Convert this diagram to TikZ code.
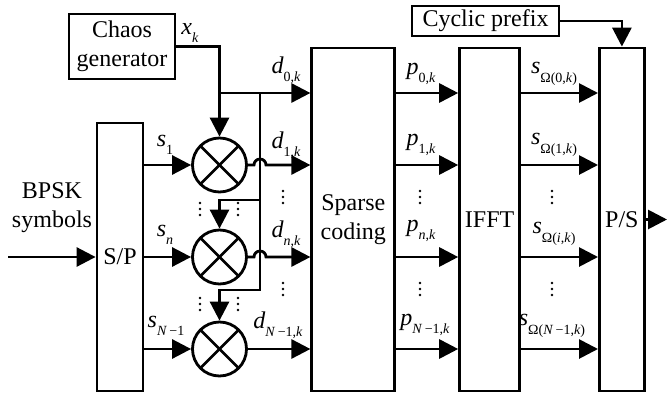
\documentclass[tikz,border=0pt]{standalone}
\usepackage{fontspec}
\setmainfont{Liberation Serif}
\newfontfamily\blockfont{Liberation Serif}
\usetikzlibrary{arrows.meta,positioning,calc}

% italic symbol with a lowered index
\newcommand{\idx}[2]{\textit{#1}\raisebox{-0.35em}{\fontsize{14}{14}\selectfont #2}}

\tikzset{vdot/.pic={\foreach \d in {-6,0,6} \fill (0,\d) circle (1.4pt);}}

\begin{document}
\begin{tikzpicture}[
  x=1pt, y=-1pt,
  line width=2.8pt,
  box/.style={draw, align=center, inner sep=0pt,
              font=\blockfont\fontsize{24}{29}\selectfont},
  txt/.style={align=center, inner sep=0pt,
              font=\blockfont\fontsize{24}{29}\selectfont},
  mult/.style={draw, circle, minimum size=54pt, inner sep=0pt,
    path picture={
      \draw (path picture bounding box.center) +(45:28pt) -- +(225:28pt);
      \draw (path picture bounding box.center) +(135:28pt) -- +(-45:28pt);}},
  lbl/.style={inner sep=0pt, font=\blockfont\fontsize{24}{28}\selectfont},
  arr/.style={-{Triangle[length=19pt, width=19pt]}}
]
\useasboundingbox (0,0) rectangle (668,401);

% blocks
\node[box, minimum width=106pt, minimum height=65pt] (chaos) at (122,46.5) {Chaos\\generator};
\node[box, minimum width=46pt, minimum height=268pt] (sp) at (120,257) {S/P};
\node[box, minimum width=83pt, minimum height=343pt,
      right=166pt of sp.south east, anchor=south west] (sc) {Sparse\\coding};
\node[box, minimum width=60pt, minimum height=343pt, right=62pt of sc] (ifft) {IFFT};
\node[box, minimum width=45pt, minimum height=343pt, right=77pt of ifft] (ps) {P/S};
\node[box, minimum width=147pt, minimum height=30pt] (cp) at (485.5,21) {Cyclic prefix};
\node[txt] (bpsk) at (52,208) {BPSK\\symbols};

% multipliers
\node[mult] (m1) at (219.5,165) {};
\node[mult] (m2) at (219.5,257) {};
\node[mult] (m3) at (219.5,349) {};

% junctions and free ends
\coordinate (j0)  at (219.5,93);
\coordinate (bus) at (260,93);
\coordinate (b1)  at (260,200);
\coordinate (b2)  at (260,290);
\coordinate (in)  at (8,257);
\coordinate (out) at (667,219.5);

% chaos sequence
\draw[arr] (chaos.east) -| (m1.north);
\draw[arr] (j0) -- (j0 -| sc.west);
\draw[arr] (bus) -- (b2) -| (m3.north);
\draw[arr] (b1) -| (m2.north);

% serial to parallel
\draw[arr] (in) -- (sp);
\draw[arr] (sp.east |- m1) -- (m1);
\draw[arr] (sp.east |- m2) -- (m2);
\draw[arr] (sp.east |- m3) -- (m3);

% multiplier outputs, hopping over the bus
\draw[arr] (m1.east) -- ($(bus |- m1)+(-6,0)$)
  arc[start angle=180, end angle=0, radius=6pt] -- (sc.west |- m1);
\draw[arr] (m2.east) -- ($(bus |- m2)+(-6,0)$)
  arc[start angle=180, end angle=0, radius=6pt] -- (sc.west |- m2);
\draw[arr] (m3.east) -- (sc.west |- m3);

% coded and transformed rows
\foreach \r in {j0,m1,m2,m3} {
  \draw[arr] (sc.east |- \r) -- (ifft.west |- \r);
  \draw[arr] (ifft.east |- \r) -- (ps.west |- \r);
}

\draw[arr] (cp.east) -| (ps.north);
\draw[arr] (ps.east |- out) -- (out);

% labels
\node[lbl] at (190,33)  {\idx{x}{\textit{k}}};
\node[lbl] at (165,145) {\idx{s}{1}};
\node[lbl] at (165,235) {\idx{s}{\textit{n}}};
\node[lbl] at (166,326) {\idx{s}{\textit{N}\,−1}};
\node[lbl] at (286,70)  {\idx{d}{0,\textit{k}}};
\node[lbl] at (286,145) {\idx{d}{1,\textit{k}}};
\node[lbl] at (286,234) {\idx{d}{\textit{n},\textit{k}}};
\node[lbl] at (278,325) {\idx{d}{\textit{N}\,−1,\textit{k}}};
\node[lbl] at (421,74)  {\idx{p}{0,\textit{k}}};
\node[lbl] at (421,145) {\idx{p}{1,\textit{k}}};
\node[lbl] at (421,231) {\idx{p}{\textit{n},\textit{k}}};
\node[lbl] at (425,325) {\idx{p}{\textit{N}\,−1,\textit{k}}};
\node[lbl] at (554,74)  {\idx{s}{Ω(0,\textit{k})}};
\node[lbl] at (554,145) {\idx{s}{Ω(1,\textit{k})}};
\node[lbl] at (554,234) {\idx{s}{Ω(\textit{i},\textit{k})}};
\node[lbl] at (552,326) {\idx{s}{Ω(\textit{N}\,−1,\textit{k})}};

% continuation dots
\foreach \x in {283,420,552} {
  \pic at (\x,197) {vdot};
  \pic at (\x,289) {vdot};
}
\foreach \x in {200,238} {
  \pic at (\x,209) {vdot};
  \pic at (\x,304) {vdot};
}
\end{tikzpicture}
\end{document}
